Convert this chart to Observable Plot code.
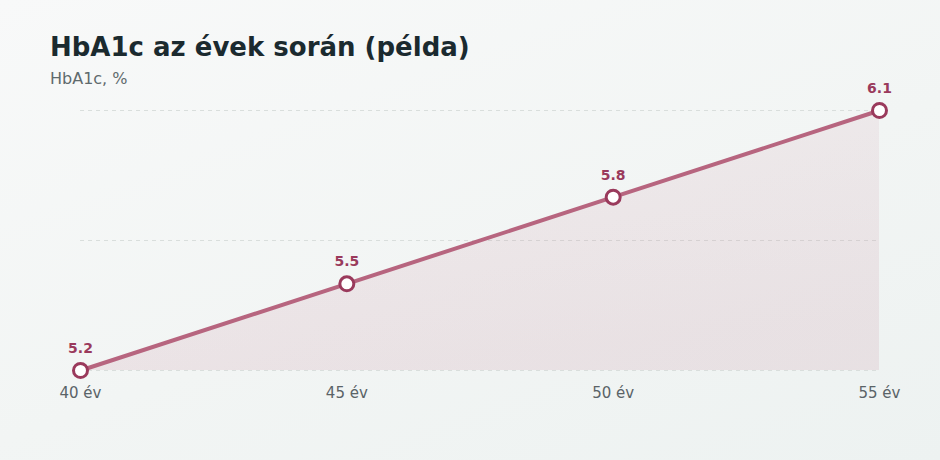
<!DOCTYPE html>
<html>
<head>
<meta charset="utf-8">
<script src="https://cdn.jsdelivr.net/npm/d3@7"></script>
<script src="https://cdn.jsdelivr.net/npm/@observablehq/plot@0.6"></script>
<style>
  html, body { margin: 0; padding: 0; }
  body { width: 940px; height: 460px; overflow: hidden; font-family: "DejaVu Sans", sans-serif; }
  #wrap { position: relative; width: 940px; height: 460px; background: linear-gradient(160deg, #f8f9f9 0%, #f2f5f4 55%, #edf2f1 100%); }
  #title { position: absolute; left: 50px; top: 34px; font-size: 26px; line-height: 1; font-weight: bold; color: #1b2a2f; }
  #subtitle { position: absolute; left: 50px; top: 71px; font-size: 16px; line-height: 1; color: #5f6a6d; }
  #chart { position: absolute; left: 0; top: 90px; }
</style>
</head>
<body>
<div id="wrap">
  <div id="title">HbA1c az évek során (példa)</div>
  <div id="subtitle">HbA1c, %</div>
  <div id="chart"></div>
</div>
<script>
const ages = [40, 45, 50, 55];
const hba1c = [5.2, 5.5, 5.8, 6.1];
const gridValues = [5.2, 5.65, 6.1];
const tickLabels = ["40 év", "45 év", "50 év", "55 év"];

const data = ages.map((a, i) => ({age: a, value: hba1c[i]}));

const lineColor = "#b7657f";
const dotColor = "#9a3a5c";

const plot = Plot.plot({
  width: 940,
  height: 330,
  marginLeft: 80,
  marginRight: 61,
  marginTop: 20,
  marginBottom: 50,
  style: {background: "transparent", fontFamily: "DejaVu Sans, sans-serif", overflow: "visible"},
  x: {domain: [40, 55], label: null},
  y: {domain: [5.2, 6.1], axis: null},
  marks: [
    () => {
      const ns = "http://www.w3.org/2000/svg";
      const defs = document.createElementNS(ns, "defs");
      defs.innerHTML = `<linearGradient id="areaGrad" x1="0" y1="0" x2="0.3" y2="1">
        <stop offset="0%" stop-color="${lineColor}" stop-opacity="0.07"/>
        <stop offset="100%" stop-color="${lineColor}" stop-opacity="0.13"/>
      </linearGradient>`;
      return defs;
    },
    Plot.ruleY(gridValues, {stroke: "#d9dedc", strokeDasharray: "4,4", strokeWidth: 1}),
    Plot.areaY(data, {x: "age", y1: 5.2, y2: "value", fill: "url(#areaGrad)"}),
    Plot.line(data, {x: "age", y: "value", stroke: lineColor, strokeWidth: 4, strokeLinecap: "round"}),
    Plot.dot(data, {x: "age", y: "value", r: 7, fill: "white", stroke: dotColor, strokeWidth: 3}),
    Plot.text(data, {x: "age", y: "value", text: d => d.value.toFixed(1), dy: -22, fill: dotColor, fontWeight: "bold", fontSize: 14}),
    Plot.axisX({ticks: ages, tickSize: 0, tickPadding: 17, fontSize: 15, fill: "#5a6367", tickFormat: d => tickLabels[ages.indexOf(d)]})
  ]
});
document.getElementById("chart").appendChild(plot);
</script>
</body>
</html>
